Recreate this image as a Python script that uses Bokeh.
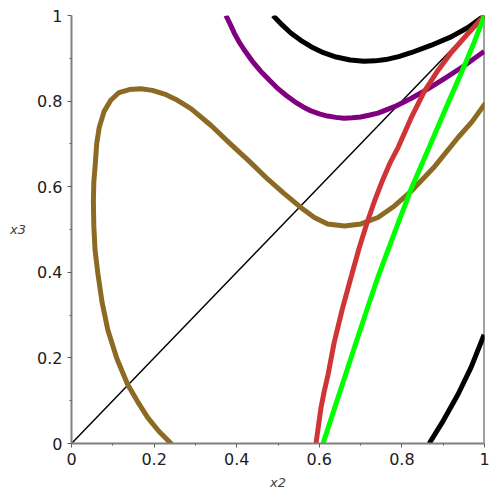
from bokeh.plotting import figure
from bokeh.models import FixedTicker
from bokeh.embed import file_html
from bokeh.resources import INLINE

# ---- data ----
diag_x = [0.0, 1.0]
diag_y = [0.0, 1.0]

edge_x = [1.0, 1.0]
edge_y = [0.0, 1.0]

brown_x = [0.241, 0.212, 0.185, 0.160, 0.136, 0.110, 0.088, 0.074, 0.064, 0.057, 0.054, 0.053, 0.054,
           0.057, 0.061, 0.067, 0.079, 0.095, 0.115, 0.140, 0.168, 0.196, 0.229, 0.253, 0.290, 0.338,
           0.386, 0.432, 0.476, 0.515, 0.556, 0.588, 0.620, 0.661, 0.701, 0.742, 0.782, 0.822, 0.880,
           0.936, 0.970, 1.0]
brown_y = [0.0, 0.028, 0.060, 0.098, 0.138, 0.198, 0.265, 0.330, 0.396, 0.452, 0.509, 0.565, 0.610,
           0.646, 0.700, 0.738, 0.776, 0.802, 0.820, 0.827, 0.829, 0.825, 0.815, 0.804, 0.782, 0.743,
           0.699, 0.658, 0.617, 0.584, 0.551, 0.528, 0.513, 0.508, 0.513, 0.528, 0.555, 0.589, 0.648,
           0.715, 0.752, 0.792]

red_x = [0.592, 0.598, 0.604, 0.612, 0.621, 0.636, 0.656, 0.677, 0.696, 0.716, 0.735, 0.754, 0.772,
         0.791, 0.822, 0.854, 0.886, 0.919, 0.960, 1.0]
red_y = [0.0, 0.042, 0.083, 0.122, 0.160, 0.236, 0.315, 0.389, 0.455, 0.517, 0.570, 0.617, 0.657,
         0.692, 0.760, 0.822, 0.870, 0.913, 0.958, 1.0]

green_x = [0.609, 0.649, 0.689, 0.715, 0.742, 0.782, 0.822, 0.866, 0.908, 0.951, 0.976, 1.0]
green_y = [0.0, 0.118, 0.236, 0.312, 0.389, 0.492, 0.594, 0.692, 0.787, 0.882, 0.940, 1.0]

blackl_x = [0.866, 0.900, 0.936, 0.968, 0.999]
blackl_y = [0.0, 0.053, 0.115, 0.179, 0.254]

purple_x = [0.374, 0.385, 0.395, 0.406, 0.418, 0.438, 0.458, 0.480, 0.500, 0.520, 0.540, 0.560, 0.580,
            0.600, 0.620, 0.640, 0.660, 0.680, 0.700, 0.720, 0.742, 0.782, 0.822, 0.862, 0.902, 0.950,
            0.999]
purple_y = [1.0, 0.978, 0.957, 0.938, 0.920, 0.893, 0.870, 0.848, 0.829, 0.813, 0.799, 0.787, 0.777,
            0.770, 0.765, 0.762, 0.760, 0.761, 0.763, 0.767, 0.772, 0.787, 0.806, 0.828, 0.852, 0.882,
            0.916]

blacku_x = [0.488, 0.510, 0.531, 0.555, 0.580, 0.610, 0.641, 0.675, 0.708, 0.735, 0.761, 0.792, 0.822,
            0.870, 0.919, 0.960, 1.0]
blacku_y = [1.0, 0.978, 0.959, 0.942, 0.927, 0.913, 0.903, 0.896, 0.893, 0.894, 0.897, 0.904, 0.913,
            0.930, 0.950, 0.972, 1.0]

major_ticks = [0.0, 0.2, 0.4, 0.6, 0.8, 1.0]
minor_ticks = [0.1, 0.3, 0.5, 0.7, 0.9]
tick_labels = ["0", "0.2", "0.4", "0.6", "0.8", "1"]

x_label = "x2"
y_label = "x3"

# ---- figure ----
p = figure(width=492, height=492, x_range=(0, 1), y_range=(0, 1),
           output_backend="svg", toolbar_location=None,
           min_border_left=71, min_border_top=15, min_border_right=8, min_border_bottom=39)
p.outline_line_color = None
p.grid.visible = False
p.background_fill_color = "white"
p.border_fill_color = "white"

overrides = {t: s for t, s in zip(major_ticks, tick_labels)}
for ax in (p.xaxis[0], p.yaxis[0]):
    ax.ticker = FixedTicker(ticks=major_ticks, minor_ticks=minor_ticks)
    ax.major_label_overrides = overrides
    ax.axis_line_color = "#808080"
    ax.axis_line_width = 2
    ax.major_tick_line_color = "#606060"
    ax.minor_tick_line_color = "#606060"
    ax.major_tick_out = 4
    ax.major_tick_in = 0
    ax.minor_tick_out = 2
    ax.minor_tick_in = 0
    ax.major_label_text_font = "DejaVu Sans"
    ax.major_label_text_font_size = "16px"
    ax.major_label_text_color = "#202020"
    ax.axis_label_text_font = "DejaVu Sans"
    ax.axis_label_text_font_style = "italic"
    ax.axis_label_text_font_size = "13px"
    ax.axis_label_text_color = "#404040"
p.xaxis[0].major_label_standoff = 5
p.yaxis[0].major_label_standoff = 5

p.xaxis[0].axis_label = x_label
p.xaxis[0].axis_label_standoff = 7

y_done = False
if hasattr(p.yaxis[0], "axis_label_orientation"):
    try:
        p.yaxis[0].axis_label = y_label
        p.yaxis[0].axis_label_orientation = "horizontal"
        p.yaxis[0].axis_label_standoff = 8
        y_done = True
    except Exception:
        y_done = False
if not y_done:
    p.yaxis[0].axis_label = y_label
    p.yaxis[0].axis_label_standoff = 8

p.line(diag_x, diag_y, line_color="black", line_width=1.5)
p.line(edge_x, edge_y, line_color="#444444", line_width=2)
p.line(brown_x, brown_y, line_color="#8C6A23", line_width=5, line_join="round", line_cap="round")
p.line(purple_x, purple_y, line_color="#800080", line_width=5, line_join="round")
p.line(blacku_x, blacku_y, line_color="black", line_width=5, line_join="round")
p.line(red_x, red_y, line_color="#D03535", line_width=5, line_join="round")
p.line(green_x, green_y, line_color="#00FF00", line_width=5, line_join="round")
p.line(blackl_x, blackl_y, line_color="black", line_width=5, line_join="round")

open("out.html", "w").write(file_html(p, INLINE))
